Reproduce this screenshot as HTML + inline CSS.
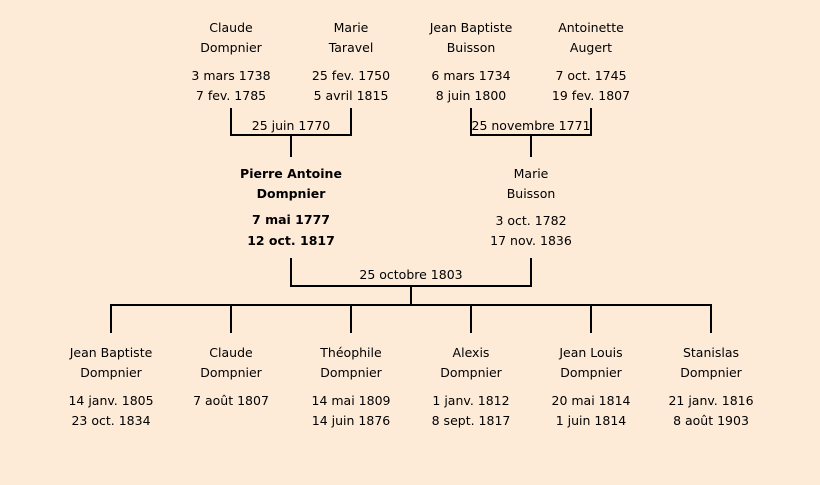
<!DOCTYPE html>
<html><head><meta charset="utf-8"><style>
html,body{margin:0;padding:0;background:#fdebd8;}
svg{display:block;}
text{font-family:"DejaVu Sans","Liberation Sans",sans-serif;font-size:12.5px;fill:#000;text-anchor:middle;}
.b{font-weight:bold;}
</style></head><body>
<svg width="820" height="485" viewBox="0 0 820 485">
<rect width="820" height="485" fill="#fdebd8"/>
<g stroke="#000" stroke-width="2" fill="none">
<polyline points="231,108 231,135 351,135 351,108"/>
<line x1="291" y1="135" x2="291" y2="157"/>
<polyline points="471,108 471,135 591,135 591,108"/>
<line x1="531" y1="135" x2="531" y2="157"/>
<polyline points="291,258 291,286 531,286 531,258"/>
<line x1="411" y1="286" x2="411" y2="305"/>
<line x1="110" y1="305" x2="712" y2="305"/>
<line x1="111" y1="305" x2="111" y2="333"/>
<line x1="231" y1="305" x2="231" y2="333"/>
<line x1="351" y1="305" x2="351" y2="333"/>
<line x1="471" y1="305" x2="471" y2="333"/>
<line x1="591" y1="305" x2="591" y2="333"/>
<line x1="711" y1="305" x2="711" y2="333"/>
</g>
<text x="231" y="32">Claude</text><text x="231" y="52">Dompnier</text><text x="231" y="80">3 mars 1738</text><text x="231" y="100">7 fev. 1785</text>
<text x="351" y="32">Marie</text><text x="351" y="52">Taravel</text><text x="351" y="80">25 fev. 1750</text><text x="351" y="100">5 avril 1815</text>
<text x="471" y="32">Jean Baptiste</text><text x="471" y="52">Buisson</text><text x="471" y="80">6 mars 1734</text><text x="471" y="100">8 juin 1800</text>
<text x="591" y="32">Antoinette</text><text x="591" y="52">Augert</text><text x="591" y="80">7 oct. 1745</text><text x="591" y="100">19 fev. 1807</text>
<text x="291" y="130">25 juin 1770</text>
<text x="531" y="130">25 novembre 1771</text>
<text class="b" x="291" y="178">Pierre Antoine</text><text class="b" x="291" y="198">Dompnier</text><text class="b" x="291" y="224">7 mai 1777</text><text class="b" x="291" y="245">12 oct. 1817</text>
<text x="531" y="178">Marie</text><text x="531" y="198">Buisson</text><text x="531" y="225">3 oct. 1782</text><text x="531" y="245">17 nov. 1836</text>
<text x="411" y="279">25 octobre 1803</text>
<text x="111" y="357">Jean Baptiste</text><text x="111" y="377">Dompnier</text><text x="111" y="405">14 janv. 1805</text><text x="111" y="425">23 oct. 1834</text>
<text x="231" y="357">Claude</text><text x="231" y="377">Dompnier</text><text x="231" y="405">7 août 1807</text>
<text x="351" y="357">Théophile</text><text x="351" y="377">Dompnier</text><text x="351" y="405">14 mai 1809</text><text x="351" y="425">14 juin 1876</text>
<text x="471" y="357">Alexis</text><text x="471" y="377">Dompnier</text><text x="471" y="405">1 janv. 1812</text><text x="471" y="425">8 sept. 1817</text>
<text x="591" y="357">Jean Louis</text><text x="591" y="377">Dompnier</text><text x="591" y="405">20 mai 1814</text><text x="591" y="425">1 juin 1814</text>
<text x="711" y="357">Stanislas</text><text x="711" y="377">Dompnier</text><text x="711" y="405">21 janv. 1816</text><text x="711" y="425">8 août 1903</text>
</svg>
</body></html>
